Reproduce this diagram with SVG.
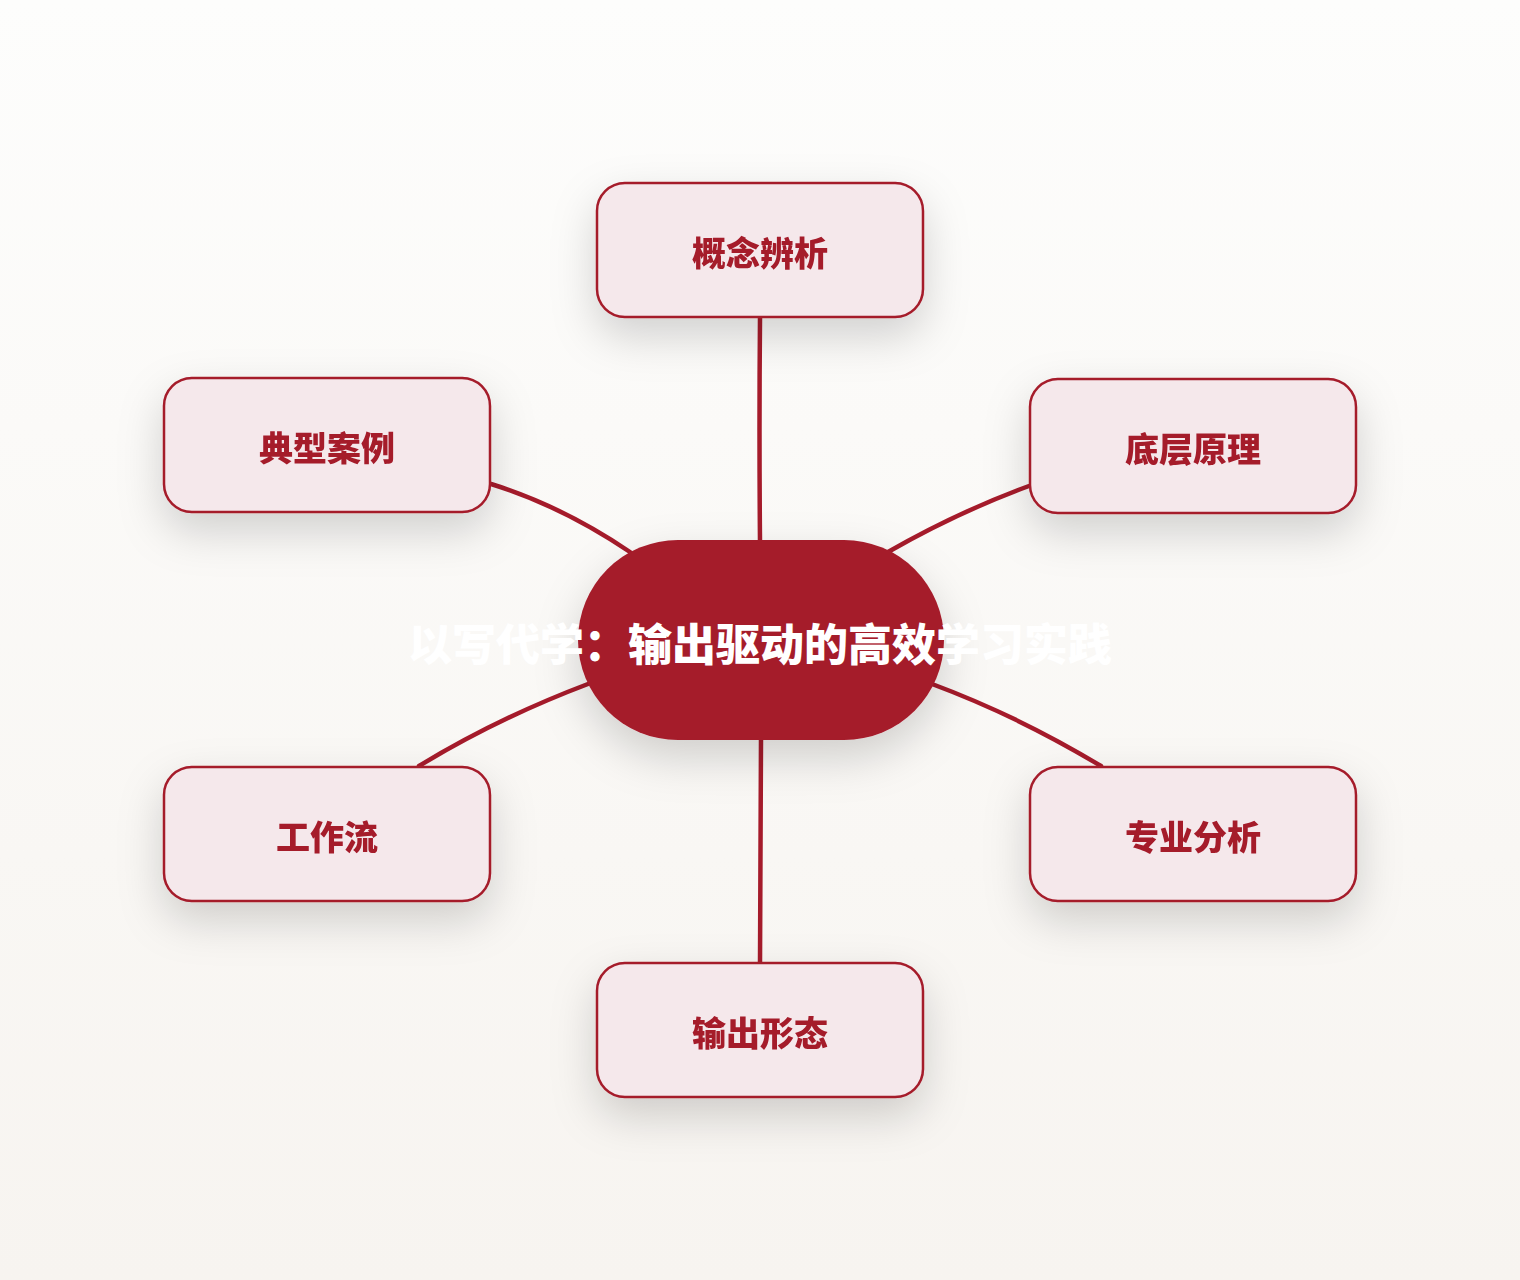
<svg xmlns="http://www.w3.org/2000/svg" width="1520" height="1280" viewBox="0 0 1520 1280">
<defs>
<linearGradient id="bg" x1="0" y1="0" x2="0" y2="1">
<stop offset="0" stop-color="#fdfdfc"/>
<stop offset="1" stop-color="#f7f4f0"/>
</linearGradient>
<filter id="sh" x="-40%" y="-40%" width="180%" height="220%">
<feDropShadow dx="0" dy="18" stdDeviation="22" flood-color="#000" flood-opacity="0.17"/>
</filter>
</defs>
<style>
.node rect{fill:#f5e8eb;stroke:#a51b2b;stroke-width:2.5}
.node text{fill:#a51b2b;font-family:"Noto Sans CJK SC","Noto Sans",sans-serif;font-weight:900;font-size:34px;text-anchor:middle;dominant-baseline:central}
.edge{fill:none;stroke:#a51b2b;stroke-width:4.5;stroke-linecap:round}
.center rect{fill:#a51b2b}
.center text{fill:#ffffff;font-family:"Noto Sans CJK SC","Noto Sans",sans-serif;font-weight:900;font-size:44px;text-anchor:middle;dominant-baseline:central}
</style>
<rect width="1520" height="1280" fill="url(#bg)"/>
<g id="connectors">
<path class="edge" d="M760 318 Q759 430 760 542"/>
<path class="edge" d="M491 484 Q562 506 630 552"/>
<path class="edge" d="M1029 486 Q958 512 888 552"/>
<path class="edge" d="M419 766 Q498 718 588 684"/>
<path class="edge" d="M1101 766 Q1018 716 932 684"/>
<path class="edge" d="M761 738 Q760 850 760 962"/>
</g>
<g id="node-concept" class="node" filter="url(#sh)">
<rect x="597" y="183" width="326" height="134" rx="28"/>
<text x="760" y="251">概念辨析</text>
</g>
<g id="node-case" class="node" filter="url(#sh)">
<rect x="164" y="378" width="326" height="134" rx="28"/>
<text x="327" y="446">典型案例</text>
</g>
<g id="node-principle" class="node" filter="url(#sh)">
<rect x="1030" y="379" width="326" height="134" rx="28"/>
<text x="1193" y="447">底层原理</text>
</g>
<g id="node-workflow" class="node" filter="url(#sh)">
<rect x="164" y="767" width="326" height="134" rx="28"/>
<text x="327" y="835">工作流</text>
</g>
<g id="node-analysis" class="node" filter="url(#sh)">
<rect x="1030" y="767" width="326" height="134" rx="28"/>
<text x="1193" y="835">专业分析</text>
</g>
<g id="node-output" class="node" filter="url(#sh)">
<rect x="597" y="963" width="326" height="134" rx="28"/>
<text x="760" y="1031">输出形态</text>
</g>
<g id="node-center" class="center">
<rect x="578" y="540" width="366" height="200" rx="100" filter="url(#sh)"/>
<text x="760" y="642">以写代学：输出驱动的高效学习实践</text>
</g>
</svg>
